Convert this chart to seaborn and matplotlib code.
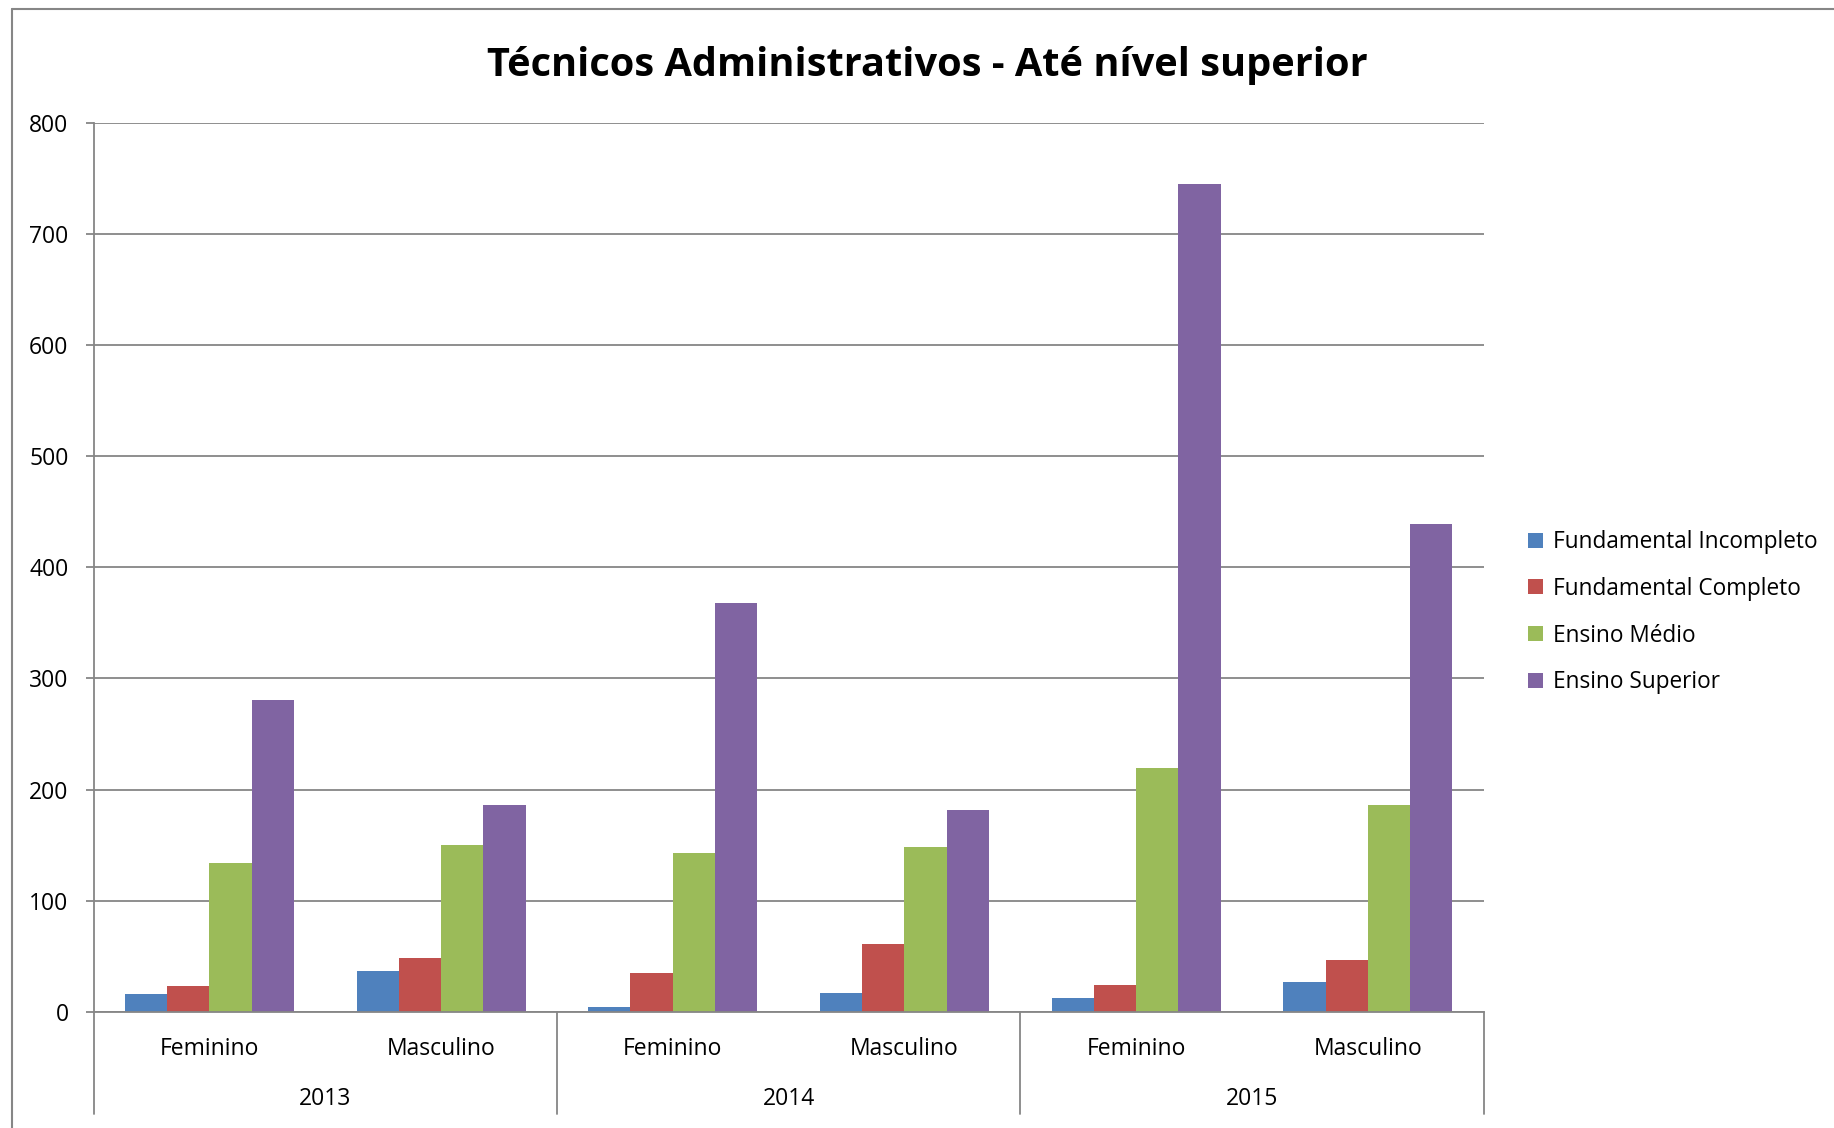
"""
Técnicos Administrativos - Até nível superior
grouped bars by year / sex / education level.
"""

import pandas as pd
import matplotlib.pyplot as plt
import matplotlib.transforms as mtransforms
from matplotlib.lines import Line2D
import seaborn as sns


# -----------------------------------
# Data
# -----------------------------------

years = ["2013", "2014", "2015"]
sexes = ["Feminino", "Masculino"]
levels = [
    "Fundamental Incompleto",
    "Fundamental Completo",
    "Ensino Médio",
    "Ensino Superior",
]

# one value per (year, sex), in order 2013 F, 2013 M, 2014 F, ...
fund_incompleto = [16, 37, 4, 17, 12, 27]
fund_completo = [23, 48, 35, 61, 24, 47]
ensino_medio = [134, 150, 143, 148, 219, 186]
ensino_superior = [281, 186, 368, 182, 745, 439]

colors = ["#4F81BD", "#C0504D", "#9BBB59", "#8064A2"]

series = [fund_incompleto, fund_completo, ensino_medio, ensino_superior]
categories = [f"{y} {s}" for y in years for s in sexes]

rows = []
for level, vals in zip(levels, series):
    for cat, v in zip(categories, vals):
        rows.append({"cat": cat, "level": level, "value": v})
df = pd.DataFrame(rows)


# -----------------------------------
# Plot
# -----------------------------------

sns.set_style("white")
plt.rcParams["font.family"] = ["Open Sans", "DejaVu Sans"]
plt.rcParams["text.color"] = "black"
plt.rcParams["xtick.color"] = "black"
plt.rcParams["ytick.color"] = "black"

fig = plt.figure(figsize=(18.34, 11.28), dpi=100)
ax = fig.add_axes([0.051, 0.103, 0.758, 0.788])

sns.barplot(
    data=df,
    x="cat",
    y="value",
    hue="level",
    order=categories,
    hue_order=levels,
    palette=colors,
    saturation=1,
    width=0.73,
    linewidth=0,
    ax=ax,
)

grid_color = "#868686"

ax.set_ylim(0, 800)
ax.set_xlim(-0.5, len(categories) - 0.5)
ax.set_yticks(range(0, 801, 100))
ax.yaxis.grid(True, color=grid_color, linewidth=1.3)
ax.set_axisbelow(True)

for side in ["top", "right"]:
    ax.spines[side].set_visible(False)
for side in ["left", "bottom"]:
    ax.spines[side].set_color(grid_color)
    ax.spines[side].set_linewidth(1.3)

ax.tick_params(axis="y", labelsize=16.5, length=6, color=grid_color,
               width=1.3, labelcolor="black", pad=12, left=True)
ax.set_xticks(range(len(categories)))
ax.set_xticklabels(sexes * len(years))
ax.tick_params(axis="x", labelsize=16.5, length=0, pad=18,
               labelcolor="black")

ax.set_xlabel("")
ax.set_ylabel("")

# year labels and separators below the axis
trans = mtransforms.blended_transform_factory(ax.transData, ax.transAxes)
for i, year in enumerate(years):
    ax.text(2 * i + 0.5, -0.098, year, transform=trans,
            ha="center", va="center", fontsize=16.5, color="black")
for xpos in [-0.5, 1.5, 3.5, 5.5]:
    ax.plot([xpos, xpos], [0, -0.115], transform=trans,
            color=grid_color, linewidth=1.3, clip_on=False)

ax.set_title("Técnicos Administrativos - Até nível superior",
             fontsize=28.6, fontweight="bold", pad=34, x=0.6,
             color="black")

# legend on the right
handles, labels = ax.get_legend_handles_labels()
ax.get_legend().remove()
fig.legend(
    handles,
    labels,
    loc="upper left",
    bbox_to_anchor=(0.822, 0.548),
    frameon=False,
    fontsize=16.3,
    handlelength=0.65,
    handleheight=0.65,
    handletextpad=0.45,
    labelspacing=1.0,
)

# chart frame (cropped on the right and bottom)
fig.add_artist(Line2D([12 / 1834, 1], [1 - 9 / 1128, 1 - 9 / 1128],
                      color=grid_color, linewidth=1.5))
fig.add_artist(Line2D([12 / 1834, 12 / 1834], [0, 1 - 9 / 1128],
                      color=grid_color, linewidth=1.5))

fig.savefig("out.png", dpi=100)
plt.close(fig)
